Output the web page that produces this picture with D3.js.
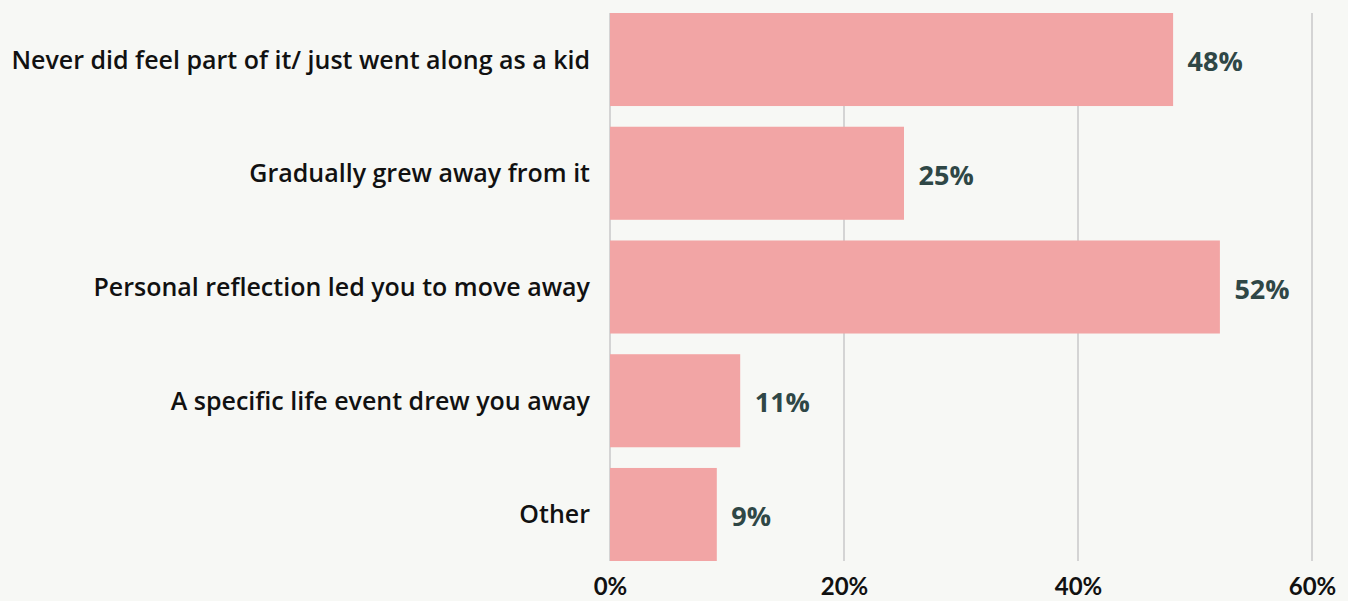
<!DOCTYPE html>
<html>
<head>
<meta charset="utf-8">
<script src="https://cdn.jsdelivr.net/npm/d3@7"></script>
<style>
  html, body { margin: 0; padding: 0; background: #f7f8f5; }
  svg { display: block; }
  .cat-label { font-family: "Open Sans", Lato, sans-serif; font-weight: 600; font-size: 25px; fill: #111; }
  .val-label { font-family: "Open Sans", Lato, sans-serif; font-weight: 700; font-size: 27px; fill: #2f4746; }
  .x-axis text { font-family: Lato, "Noto Sans", sans-serif; font-weight: 700; font-size: 24px; fill: #111; }
</style>
</head>
<body>
<svg id="chart"></svg>
<script>
// chart data
const categories = [
    "Never did feel part of it/ just went along as a kid",
    "Gradually grew away from it",
    "Personal reflection led you to move away",
    "A specific life event drew you away",
    "Other"
];
const values = [48, 25, 52, 11, 9];
const xTicks = [0, 20, 40, 60];

const width = 1348;
const height = 601;
const margin = { top: 13, right: 36, bottom: 40, left: 610 };

const svg = d3.select("#chart")
    .attr("width", width)
    .attr("height", height)
    .style("background-color", "#f7f8f5");

const chart = svg.append("g")
    .attr("transform", `translate(${margin.left},${margin.top})`);

const xScale = d3.scaleLinear()
    .domain([0, 60])
    .range([0, 702]);

const yScale = d3.scaleBand()
    .domain(categories)
    .range([0, 548])
    .paddingInner(0.182)
    .paddingOuter(0);

const plotBottom = yScale.range()[1];

// gridlines
chart.selectAll(".grid")
    .data(xTicks)
    .enter()
    .append("line")
    .attr("class", "grid")
    .attr("x1", d => xScale(d))
    .attr("x2", d => xScale(d))
    .attr("y1", 0)
    .attr("y2", plotBottom)
    .attr("stroke", "#c9c9c9")
    .attr("stroke-width", 1.5);

// bars
chart.selectAll(".bar")
    .data(values)
    .enter()
    .append("rect")
    .attr("class", "bar")
    .attr("x", 0)
    .attr("y", (d, i) => yScale(categories[i]))
    .attr("width", d => xScale(d) + 1.5)
    .attr("height", yScale.bandwidth())
    .attr("fill", "#f2a5a5");

// value labels
chart.selectAll(".val-label")
    .data(values)
    .enter()
    .append("text")
    .attr("class", "val-label")
    .attr("x", d => xScale(d) + 16)
    .attr("y", (d, i) => yScale(categories[i]) + yScale.bandwidth() / 2 + 2)
    .attr("dy", "0.36em")
    .text(d => d + "%");

// category labels
chart.selectAll(".cat-label")
    .data(categories)
    .enter()
    .append("text")
    .attr("class", "cat-label")
    .attr("x", -20)
    .attr("y", d => yScale(d) + yScale.bandwidth() / 2)
    .attr("dy", "0.36em")
    .attr("text-anchor", "end")
    .text(d => d);

// x axis
const xAxis = chart.append("g")
    .attr("class", "x-axis")
    .attr("transform", `translate(0,${plotBottom})`)
    .call(d3.axisBottom(xScale).tickValues(xTicks).tickFormat(d => d + "%").tickSize(0).tickPadding(17));

xAxis.select(".domain").remove();
</script>
</body>
</html>
